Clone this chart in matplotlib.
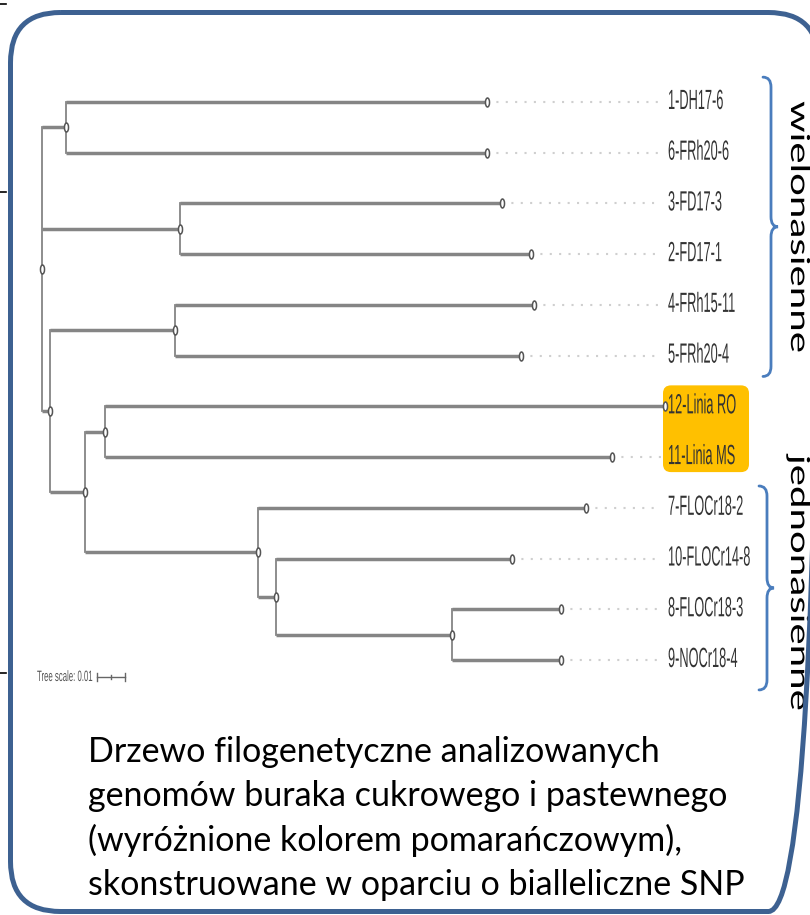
import numpy as np
import matplotlib
matplotlib.use("Agg")
import matplotlib.pyplot as plt
from matplotlib.patches import FancyBboxPatch, PathPatch
from matplotlib.path import Path
from matplotlib.text import Text
from matplotlib.transforms import Affine2D, Bbox
from matplotlib.patheffects import AbstractPathEffect


# leaves from top to bottom
leaves = ["1-DH17-6", "6-FRh20-6", "3-FD17-3", "2-FD17-1", "4-FRh15-11", "5-FRh20-4",
          "12-Linia RO", "11-Linia MS", "7-FLOCr18-2", "10-FLOCr14-8", "8-FLOCr18-3", "9-NOCr18-4"]
highlighted = ["12-Linia RO", "11-Linia MS"]

# tree edges: child, parent, branch length
child = ["A", "1-DH17-6", "6-FRh20-6",
         "B", "3-FD17-3", "2-FD17-1",
         "C", "D", "4-FRh15-11", "5-FRh20-4",
         "E", "F", "12-Linia RO", "11-Linia MS",
         "G", "7-FLOCr18-2", "H", "10-FLOCr14-8",
         "I", "8-FLOCr18-3", "9-NOCr18-4"]
parent = ["root", "A", "A",
          "root", "B", "B",
          "root", "C", "D", "D",
          "C", "E", "F", "F",
          "E", "G", "G", "H",
          "H", "I", "I"]
blen = [0.0086, 0.1504, 0.1504,
        0.0493, 0.1150, 0.1254,
        0.0029, 0.0446, 0.1282, 0.1236,
        0.0125, 0.0071, 0.2000, 0.1811,
        0.0618, 0.1171, 0.0064, 0.0843,
        0.0629, 0.0389, 0.0389]
scale_len = 0.01

groups = ["wielonasienne", "jednonasienne"]
group_first = ["1-DH17-6", "7-FLOCr18-2"]
group_last = ["5-FRh20-4", "9-NOCr18-4"]

caption = ["Drzewo filogenetyczne analizowanych",
           "genomów buraka cukrowego i pastewnego",
           "(wyróżnione kolorem pomarańczowym),",
           "skonstruowane w oparciu o bialleliczne SNP"]


class Squeeze(AbstractPathEffect):
    # narrow the glyphs horizontally around the text origin
    def __init__(self, sx):
        super().__init__()
        self.sx = sx

    def draw_path(self, renderer, gc, tpath, affine, rgbFace=None):
        m = affine.get_matrix()
        tx, ty = m[0, 2], m[1, 2]
        aff = affine + Affine2D().translate(-tx, -ty).scale(self.sx, 1).translate(tx, ty)
        renderer.draw_path(gc, tpath, aff, rgbFace)


class NarrowText(Text):
    # text drawn narrower; its extent is reported narrower too
    def __init__(self, x, y, s, sx=1.0, **kw):
        super().__init__(x, y, s, **kw)
        self.sx = sx
        self.set_path_effects([Squeeze(sx)])

    def get_window_extent(self, renderer=None, dpi=None):
        bb = super().get_window_extent(renderer, dpi)
        ox = self.get_transform().transform(self.get_unitless_position())[0]
        return Bbox([[ox + (bb.x0 - ox) * self.sx, bb.y0],
                     [ox + (bb.x1 - ox) * self.sx, bb.y1]])


def narrow_text(ax, x, y, s, sx, transform=None, **kw):
    t = NarrowText(x, y, s, sx=sx, transform=transform or ax.transData, **kw)
    ax.add_artist(t)
    return t


# layout in pixels
W, H = 810, 915
PX = 2800.0      # pixels per branch-length unit
X0 = 42          # root x
Y0, DY = 102, 50.727
L, R, T, B = 20, 810, 60, 700

fig = plt.figure(figsize=(W / 100, H / 100), dpi=100)
axp = fig.add_axes([0, 0, 1, 1])
axp.set_xlim(0, W)
axp.set_ylim(H, 0)
axp.axis("off")

ax = fig.add_axes([L / W, 1 - B / H, (R - L) / W, (B - T) / H])
ax.set_xlim((L - X0) / PX, (R - X0) / PX)
ax.set_ylim((B - Y0) / DY, (T - Y0) / DY)
ax.axis("off")

# --- tree geometry
par = dict(zip(child, parent))
bl = dict(zip(child, blen))
kids = {}
for c, p in zip(child, parent):
    kids.setdefault(p, []).append(c)

depth = {"root": 0.0}
def get_depth(n):
    if n not in depth:
        depth[n] = get_depth(par[n]) + bl[n]
    return depth[n]
for n in child:
    get_depth(n)

ypos = {name: i for i, name in enumerate(leaves)}
def get_y(n):
    if n not in ypos:
        ys = [get_y(k) for k in kids[n]]
        ypos[n] = (min(ys) + max(ys)) / 2
    return ypos[n]
get_y("root")

line_col = "#858585"
lab_x = (668 - X0) / PX
dot_end = (661 - X0) / PX

# dotted leaders
for name in leaves:
    ax.plot([depth[name], dot_end], [ypos[name]] * 2, color="#cfcfcf", lw=1.5,
            ls=(0, (1, 3.5)), zorder=1)

# highlight box
hy = [ypos[n] for n in highlighted]
hx0, hx1 = (663 - X0) / PX, (749 - X0) / PX
asp = PX / DY
box = FancyBboxPatch((hx0, min(hy) - 0.414), hx1 - hx0, max(hy) - min(hy) + 0.71,
                     boxstyle="round,pad=0,rounding_size=%f" % (8 / PX),
                     mutation_aspect=asp, fc="#ffc000", ec="none", zorder=1.5)
ax.add_patch(box)

# branches
for c in child:
    ax.plot([depth[par[c]], depth[c]], [ypos[c]] * 2, color=line_col, lw=2.5,
            solid_capstyle="butt", zorder=2)
for n, ks in kids.items():
    ys = [ypos[k] for k in ks]
    ax.plot([depth[n]] * 2, [min(ys), max(ys)], color=line_col, lw=1.3, zorder=2)

# node markers
ell = Path.unit_circle().transformed(Affine2D().scale(0.45, 1.0))
allnodes = ["root"] + child
ax.plot([depth[n] for n in allnodes], [ypos[n] for n in allnodes], ls="none",
        marker=ell, ms=6.5, mfc="white", mec="#555555", mew=1.1, zorder=3)

# leaf labels
for name in leaves:
    narrow_text(ax, lab_x, ypos[name], name, 0.46, fontsize=20,
                family=["Liberation Sans", "DejaVu Sans"], color="#333333",
                ha="left", va="center", zorder=4)

# tree scale
sy = (677 - Y0) / DY
sx0 = (97 - X0) / PX
narrow_text(ax, (37 - X0) / PX, sy, "Tree scale: %g" % scale_len, 0.52, fontsize=10.8,
            family=["Liberation Sans", "DejaVu Sans"], color="#555555",
            ha="left", va="center")
ax.plot([sx0, sx0 + scale_len], [sy, sy], color="#666666", lw=1.0)
for xt, hh in [(sx0, 0.08), (sx0 + scale_len / 2, 0.04), (sx0 + scale_len, 0.08)]:
    ax.plot([xt, xt], [sy - hh, sy + hh], color="#666666", lw=1.0)

# group braces
brace_col = "#4a7dbd"
pads = [(0.49, 0.41), (0.43, 0.59)]
bx = (771 - X0) / PX
hook = 8 / PX
nub = 7 / PX
cy = 10 / DY
for gi in range(len(groups)):
    y0 = ypos[group_first[gi]] - pads[gi][0]
    y1 = ypos[group_last[gi]] + pads[gi][1]
    xx = bx - (4 / PX if gi == 1 else 0)
    ym = (y0 + y1) / 2
    verts = [(xx - hook, y0), (xx, y0), (xx, y0 + cy),
             (xx, ym - cy), (xx, ym), (xx + nub, ym),
             (xx, ym), (xx, ym + cy),
             (xx, y1 - cy), (xx, y1), (xx - hook, y1)]
    codes = [Path.MOVETO, Path.CURVE3, Path.CURVE3,
             Path.LINETO, Path.CURVE3, Path.CURVE3,
             Path.CURVE3, Path.CURVE3,
             Path.LINETO, Path.CURVE3, Path.CURVE3]
    ax.add_patch(PathPatch(Path(verts, codes), fc="none", ec=brace_col, lw=2.0,
                           capstyle="round", zorder=2))

# rotated group names
for gtext, gy in zip(groups, [101, 455]):
    narrow_text(axp, 791, gy, gtext, 0.65, fontsize=29, family=["Lato", "DejaVu Sans"],
                color="black", rotation=-90, rotation_mode="anchor",
                ha="left", va="baseline")

# outer rounded frame (right side runs past the picture edge)
frame = FancyBboxPatch((10.5, 12.5), 808, 899, boxstyle="round,pad=0,rounding_size=50",
                       fc="none", ec="#3d6191", lw=3.6, zorder=5)
axp.add_patch(frame)

# small crop marks at left edge
for yy in [4, 192, 673]:
    axp.plot([0, 6], [yy, yy], color="black", lw=1.2)

# caption
for i, line in enumerate(caption):
    axp.text(88, 762 + i * 44.3, line, fontsize=24.5, family=["Lato", "DejaVu Sans"],
             color="black", ha="left", va="baseline")

fig.savefig("out.png", dpi=100)
